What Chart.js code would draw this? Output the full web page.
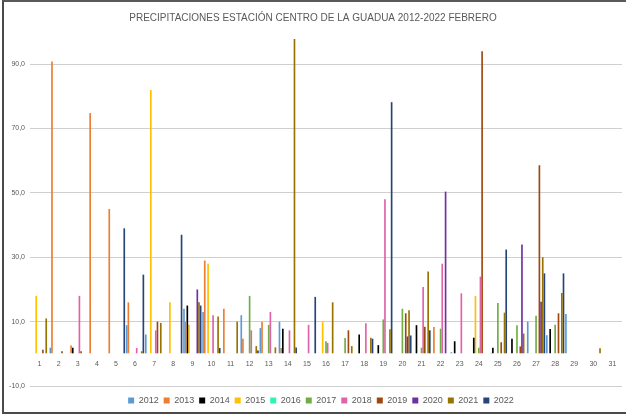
<!DOCTYPE html>
<html>
<head>
<meta charset="utf-8">
<script src="https://cdn.jsdelivr.net/npm/chart.js@4.4.0/dist/chart.umd.min.js"></script>
<style>
  html, body { margin: 0; padding: 0; background: #fff; }
  #wrap {
    position: absolute; left: 2px; top: 0; width: 622px; height: 410px;
    border-top: 2px solid #5a5a5a; border-left: 2px solid #4a4a4a; border-bottom: 2px solid #4a4a4a;
  }
  canvas { display: block; }
</style>
</head>
<body>
<div id="wrap"><canvas id="chart" width="622" height="410"></canvas></div>
<script>
// Febrero, días 1-31
const DAYS = ['1','2','3','4','5','6','7','8','9','10','11','12','13','14','15','16',
  '17','18','19','20','21','22','23','24','25','26','27','28','29','30','31'];

const YEARS = ['2012','2013','2014','2015','2016','2017','2018','2019','2020','2021','2022'];

const COLORS = ['#5B9BD5','#ED7D31','#000000','#FFC000','#2CF5B4','#70AD47',
  '#E062A8','#9E480E','#7030A0','#997300','#264478'];

// precipitación (mm) por día, una lista por año
const p2012 = [null,1.9,null,null,null,8.9,6,null,14,13,null,12,8,10,null,null,null,null,null,null,null,null,0.5,null,null,null,10,5.8,12.4,null,null];
const p2013 = [null,90.8,2.6,74.8,45,16,null,null,10,29,14,4.7,10,1.8,null,null,null,null,null,null,null,8.3,null,null,0.3,null,null,null,null,null,null];
const p2014 = [null,null,1.9,null,null,null,null,null,15,null,null,null,null,7.8,null,null,null,6,2.7,null,8.9,null,3.9,5,1.9,4.7,null,7.7,null,null,null];
const p2015 = [18,null,null,null,null,null,82,16,9,28,null,null,null,null,null,10,null,null,null,null,null,null,null,18,null,null,null,null,null,null,null];
const p2016 = [null,null,null,null,null,null,null,null,null,null,null,null,null,null,null,null,null,null,null,null,null,null,null,null,null,null,null,null,null,null,null];
const p2017 = [null,null,null,null,null,null,null,null,null,null,null,18,9,null,null,3.9,4.9,null,10.7,14,1.9,7.8,null,1.9,15.8,8.9,11.8,9,null,null,null];
const p2018 = [null,null,18,null,null,1.8,7.3,null,null,12,null,7.3,13,7.3,9,3.4,null,9.5,48,null,20.8,28,18.8,24,null,null,null,null,null,null,null];
const p2019 = [1.3,0.8,0.8,null,null,null,10,null,null,null,null,null,null,null,null,null,7.3,null,null,12.6,8.4,null,null,94,3.6,2.3,58.6,12.6,null,null,null];
const p2020 = [null,null,null,null,null,null,null,null,20,null,null,null,null,null,null,null,null,null,null,5.4,null,50.4,null,null,null,34,16.2,null,null,null,null];
const p2021 = [11,null,null,null,null,0.8,9.6,null,16,11.6,10,2.4,2,97.8,null,16,2.4,5,7.6,13.5,25.6,null,null,null,12.8,6.3,30,18.9,null,1.7,null];
const p2022 = [null,null,null,null,39,24.6,null,37,15,1.8,null,1,null,2,17.7,null,null,4.7,78.2,5.7,7.3,null,null,null,32.4,null,25,25,null,null,null];

const SERIES = [p2012,p2013,p2014,p2015,p2016,p2017,p2018,p2019,p2020,p2021,p2022];

// eje vertical: solo se rotulan estas marcas
const Y_MIN = -10;
const Y_MAX = 100;
const Y_TICKS = [-10, 10, 30, 50, 70, 90];

const FONT = "'Liberation Sans', Arial, sans-serif";
const TEXT = '#595959';
const GRID = '#cfcfcf';

const datasets = YEARS.map((y, i) => ({
  label: y,
  data: SERIES[i],
  backgroundColor: COLORS[i],
  borderWidth: 0,
  categoryPercentage: 0.96,
  barPercentage: 1.0,
}));

// move the legend row a bit lower / right without touching the plot area
const legendNudge = {
  id: 'legendNudge',
  afterLayout(chart) {
    const lg = chart.legend;
    lg.top += 5;
    lg.bottom += 5;
    lg.left += 8;
    lg.right += 8;
  }
};

new Chart(document.getElementById('chart'), {
  type: 'bar',
  data: { labels: DAYS, datasets },
  plugins: [legendNudge],
  options: {
    responsive: false,
    animation: false,
    layout: { padding: { left: 0, right: 4, top: 0, bottom: 2 } },
    plugins: {
      title: {
        display: true,
        text: 'PRECIPITACIONES ESTACIÓN CENTRO DE LA GUADUA 2012-2022 FEBRERO',
        color: TEXT,
        font: { family: FONT, size: 10, weight: 'normal' },
        padding: { top: 10, bottom: 8 },
      },
      legend: {
        position: 'bottom',
        labels: {
          color: TEXT,
          font: { family: FONT, size: 9 },
          boxWidth: 6,
          boxHeight: 6,
          padding: 5,
        }
      },
      tooltip: { enabled: false },
    },
    scales: {
      x: {
        position: { y: 0 },
        grid: { display: false, drawTicks: false },
        border: { display: false },
        ticks: {
          color: TEXT,
          font: { family: FONT, size: 7 },
          padding: 6,
          maxRotation: 0,
          autoSkip: false,
        }
      },
      y: {
        min: Y_MIN,
        max: Y_MAX,
        grid: {
          drawTicks: false,
          lineWidth: 1,
          color: ctx => Y_TICKS.includes(ctx.tick.value) ? GRID : 'rgba(0,0,0,0)',
        },
        border: { display: false },
        ticks: {
          stepSize: 10,
          autoSkip: false,
          color: TEXT,
          font: { family: FONT, size: 7 },
          padding: 5,
          callback: v => Y_TICKS.includes(v) ? v.toFixed(1).replace('.', ',') : '',
        },
        afterFit(scale) {
          scale.width = 26;
        }
      }
    }
  }
});
</script>
</body>
</html>
